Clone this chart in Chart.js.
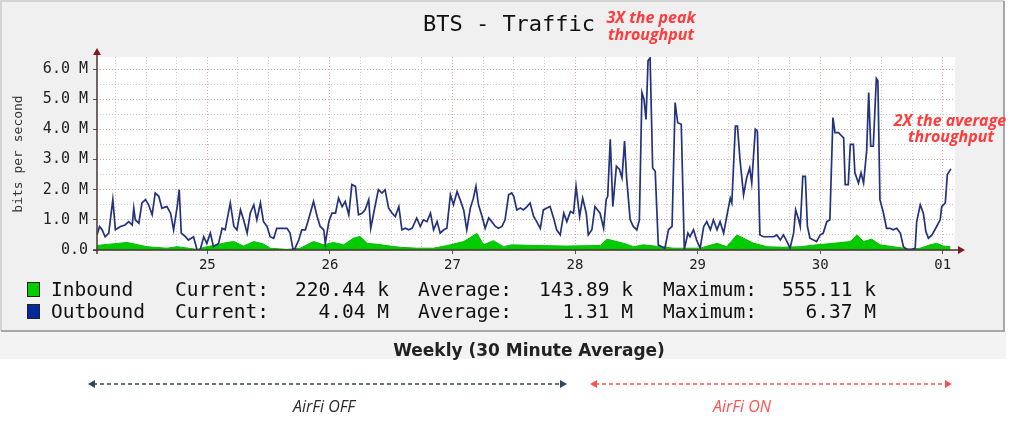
<!DOCTYPE html>
<html>
<head>
<meta charset="utf-8">
<script src="https://cdn.jsdelivr.net/npm/chart.js@4.4.0/dist/chart.umd.min.js"></script>
<style>
  html, body { margin: 0; padding: 0; background: #fff; }
  canvas { display: block; }
</style>
</head>
<body>
<canvas id="trafficChart" width="1024" height="423"></canvas>
<script>
// time axis = hours since the 24th 00:00, values in Mbit/s
const outHours = [
  2.4, 2.9, 3.4, 4.0, 4.7, 5.5, 6.0, 7.0, 7.9, 8.6,
  9.3, 9.6, 9.9, 10.6, 11.2, 11.9, 12.5, 13.2, 13.8, 14.5,
  15.1, 16.1, 16.8, 17.4, 18.1, 18.5, 18.9, 19.7, 20.3, 21.3,
  22.0, 22.6, 23.3, 23.9, 24.6, 25.2, 26.2, 26.9, 27.5, 28.5,
  29.2, 29.8, 30.5, 31.1, 31.8, 32.4, 33.1, 33.7, 34.4, 35.0,
  35.7, 36.3, 37.0, 37.6, 38.6, 39.6, 40.2, 40.8, 41.2, 41.9,
  42.5, 43.2, 43.8, 44.8, 45.5, 46.1, 46.8, 47.1, 47.8, 48.4,
  49.1, 49.7, 50.4, 51.0, 51.7, 52.3, 53.0, 53.6, 54.3, 54.9,
  55.6, 56.0, 56.9, 57.5, 58.2, 58.8, 59.5, 60.2, 60.8, 61.5,
  62.1, 62.8, 63.4, 64.1, 65.0, 65.7, 66.3, 67.0, 67.7, 68.3,
  69.0, 69.6, 70.3, 70.9, 71.6, 72.2, 72.9, 73.5, 74.2, 74.8,
  75.5, 76.1, 76.6, 77.1, 77.8, 78.4, 79.1, 79.7, 80.4, 81.0,
  81.7, 82.3, 83.0, 83.6, 84.0, 84.6, 85.3, 85.9, 86.6, 87.2,
  87.9, 88.5, 89.2, 89.8, 90.5, 91.1, 91.8, 92.4, 93.1, 93.8,
  94.4, 95.1, 95.7, 96.2, 96.9, 97.5, 98.2, 98.6, 99.3, 99.9,
  100.9, 101.6, 102.1, 102.4, 102.9, 103.4, 104.1, 104.7, 105.2, 105.7,
  106.1, 106.8, 107.4, 108.1, 108.6, 109.1, 109.5, 109.9, 110.3, 110.7,
  111.2, 111.7, 112.3, 113.0, 113.6, 114.3, 115.0, 115.6, 116.1, 116.8,
  117.4, 118.1, 118.5, 119.2, 119.8, 120.5, 121.2, 121.8, 122.5, 123.1,
  123.8, 124.4, 125.1, 125.7, 126.4, 126.7, 127.4, 127.8, 128.3, 129.0,
  129.6, 130.2, 130.6, 131.3, 131.7, 132.2, 132.9, 133.6, 134.2, 134.9,
  135.5, 136.2, 136.8, 137.5, 138.1, 138.8, 139.2, 139.8, 140.1, 140.6,
  141.1, 141.5, 142.0, 142.7, 143.3, 144.0, 144.6, 145.3, 145.9, 146.5,
  146.9, 147.6, 148.2, 148.6, 148.9, 149.5, 149.9, 150.5, 150.8, 151.5,
  152.0, 152.5, 153.1, 153.5, 153.9, 154.4, 155.0, 155.3, 155.7, 156.4,
  157.0, 157.7, 158.3, 159.0, 159.7, 160.3, 161.0, 161.9, 162.6, 162.9,
  163.6, 164.2, 164.7, 165.2, 165.9, 166.8, 167.5, 167.8, 168.5, 168.9, 169.6
];
const outMbps = [
  0.50, 0.78, 0.67, 0.44, 0.56, 1.67, 0.67, 0.78, 0.83, 0.94,
  0.83, 1.39, 1.00, 0.89, 1.56, 1.67, 1.50, 1.17, 1.89, 1.78,
  1.39, 1.44, 1.22, 0.67, 1.44, 2.00, 0.56, 0.44, 0.33, 0.44,
  0.00, 0.00, 0.44, 0.22, 0.56, 0.11, 0.22, 0.72, 0.67, 1.56,
  0.78, 0.67, 1.33, 1.00, 0.56, 1.22, 1.50, 1.00, 1.56, 0.94,
  0.78, 0.44, 0.39, 0.72, 0.72, 0.72, 0.56, 0.00, 0.06, 0.33,
  0.67, 0.67, 1.00, 1.61, 1.11, 0.78, 0.67, 0.22, 0.94, 1.22,
  1.22, 1.72, 1.44, 1.61, 1.17, 2.17, 2.11, 1.17, 1.22, 1.33,
  1.67, 0.72, 1.50, 2.00, 1.89, 2.00, 1.39, 1.22, 1.11, 1.44,
  0.67, 0.72, 0.67, 0.72, 1.06, 0.78, 1.00, 0.94, 1.22, 0.67,
  0.94, 0.56, 0.67, 0.72, 1.83, 1.50, 1.94, 1.67, 1.33, 0.67,
  1.39, 1.72, 2.11, 1.50, 1.11, 0.72, 1.06, 0.94, 0.78, 0.72,
  0.78, 1.00, 1.83, 1.89, 1.78, 1.33, 1.39, 1.33, 1.44, 1.56,
  1.11, 0.94, 0.72, 1.33, 1.39, 1.44, 1.06, 0.67, 0.50, 1.22,
  0.94, 1.28, 1.22, 2.11, 1.11, 1.72, 1.22, 0.50, 0.67, 1.44,
  1.22, 0.72, 1.67, 1.78, 3.67, 1.44, 2.78, 2.67, 2.39, 3.61,
  2.39, 1.00, 0.78, 0.67, 1.00, 5.22, 5.00, 4.33, 6.28, 6.37,
  2.72, 2.61, 0.17, 0.11, 0.06, 0.67, 0.78, 4.89, 4.22, 4.17,
  0.02, 0.56, 0.44, 0.67, 0.33, 0.06, 0.78, 0.94, 0.67, 1.00,
  0.67, 0.94, 0.56, 1.11, 1.72, 1.56, 4.11, 4.11, 3.00, 1.83,
  2.39, 2.72, 2.22, 4.00, 3.94, 0.50, 0.44, 0.44, 0.44, 0.44,
  0.50, 0.33, 0.50, 0.28, 0.06, 0.56, 1.33, 1.00, 0.78, 2.44,
  2.44, 0.78, 0.39, 0.33, 0.28, 0.50, 0.56, 0.94, 1.00, 4.39,
  3.89, 3.89, 3.78, 3.72, 2.17, 2.17, 3.50, 3.50, 2.56, 2.22,
  2.56, 2.22, 3.28, 5.22, 3.44, 3.44, 5.69, 5.61, 1.67, 1.22,
  0.72, 0.72, 0.67, 0.72, 0.56, 0.11, 0.02, 0.02, 0.06, 0.94,
  1.50, 1.22, 0.61, 0.39, 0.50, 0.78, 1.00, 1.44, 1.56, 2.50, 2.69
];
const inHours = [
  2.4, 8.3, 12.2, 16.1, 18.1, 22.0, 23.9, 25.9, 27.8, 29.2,
  31.1, 33.1, 35.0, 36.3, 39.6, 42.2, 44.8, 46.8, 48.7, 50.7,
  52.6, 53.9, 55.3, 57.2, 59.8, 61.8, 65.0, 68.3, 71.6, 74.2,
  76.8, 78.1, 80.0, 82.0, 83.6, 87.9, 94.4, 101.0, 102.2, 103.5,
  105.5, 107.5, 109.4, 112.7, 115.3, 117.9, 120.5, 123.8, 125.7, 127.7,
  129.0, 131.0, 133.6, 136.8, 140.1, 143.3, 146.6, 149.9, 151.2, 152.5,
  154.1, 155.7, 158.3, 160.3, 161.6, 163.6, 165.5, 166.8, 168.1, 169.5
];
const inMbps = [
  0.15, 0.25, 0.11, 0.06, 0.11, 0.02, 0.11, 0.17, 0.25, 0.28,
  0.13, 0.28, 0.20, 0.06, 0.02, 0.06, 0.28, 0.17, 0.25, 0.17,
  0.39, 0.45, 0.22, 0.19, 0.13, 0.09, 0.06, 0.06, 0.17, 0.28,
  0.55, 0.17, 0.31, 0.11, 0.17, 0.15, 0.13, 0.15, 0.36, 0.31,
  0.22, 0.11, 0.17, 0.11, 0.06, 0.06, 0.06, 0.22, 0.11, 0.50,
  0.39, 0.22, 0.11, 0.09, 0.11, 0.17, 0.22, 0.28, 0.50, 0.28,
  0.36, 0.17, 0.11, 0.06, 0.02, 0.06, 0.17, 0.22, 0.13, 0.11
];
const dayTicks = [24, 48, 72, 96, 120, 144, 168];
const dayLabels = ['25', '26', '27', '28', '29', '30', '01'];
const legendNames = ['Inbound', 'Outbound'];
const currentVals = ['220.44 k', '  4.04 M'];
const averageVals = ['143.89 k', '  1.31 M'];
const maximumVals = ['555.11 k', '  6.37 M'];

const MONO = '"DejaVu Sans Mono", monospace';
const isDay = v => dayTicks.includes(v);

// background panel, axes with arrows and all the loose text
const framePlugin = {
  id: 'frame',
  beforeDraw(chart) {
    const { ctx, chartArea: a } = chart;
    ctx.save();
    ctx.fillStyle = '#ffffff';
    ctx.fillRect(0, 0, chart.width, chart.height);
    ctx.fillStyle = '#f3f3f3';
    ctx.fillRect(0, 331, 1006, 28);
    ctx.fillStyle = '#f0f0f0';
    ctx.fillRect(0, 0, 1005, 332);
    ctx.lineWidth = 2;
    ctx.strokeStyle = '#d4d4d4';
    ctx.beginPath();
    ctx.moveTo(1, 331); ctx.lineTo(1, 1); ctx.lineTo(1004, 1);
    ctx.stroke();
    ctx.strokeStyle = '#a6a6a6';
    ctx.beginPath();
    ctx.moveTo(1004, 1); ctx.lineTo(1004, 331); ctx.lineTo(1, 331);
    ctx.stroke();
    ctx.fillStyle = '#ffffff';
    ctx.fillRect(a.left, a.top, a.right - a.left, a.bottom - a.top);
    ctx.restore();
  },
  afterDatasetsDraw(chart) {
    const { ctx, chartArea: a } = chart;
    ctx.save();
    ctx.strokeStyle = '#4b3535';
    ctx.lineWidth = 1.5;
    ctx.beginPath();
    ctx.moveTo(a.left, a.bottom + 4); ctx.lineTo(a.left, a.top - 3);
    ctx.moveTo(a.left - 4, a.bottom); ctx.lineTo(a.right + 4, a.bottom);
    ctx.stroke();
    ctx.fillStyle = '#7a1c1c';
    ctx.beginPath();
    ctx.moveTo(a.left, a.top - 9); ctx.lineTo(a.left - 4, a.top - 2); ctx.lineTo(a.left + 4, a.top - 2);
    ctx.fill();
    ctx.beginPath();
    ctx.moveTo(a.right + 10, a.bottom); ctx.lineTo(a.right + 3, a.bottom - 4); ctx.lineTo(a.right + 3, a.bottom + 4);
    ctx.fill();
    ctx.restore();
  },
  afterDraw(chart) {
    const { ctx } = chart;
    ctx.save();
    ctx.textBaseline = 'alphabetic';

    ctx.fillStyle = '#111';
    ctx.textAlign = 'center';
    ctx.font = '22px ' + MONO;
    ctx.fillText('BTS - Traffic', 509, 31);

    ctx.fillStyle = '#ff3b3b';
    ctx.font = 'italic bold 16px "Open Sans", sans-serif';
    ctx.fillText('3X the peak', 651, 23);
    ctx.fillText('throughput', 651, 40);
    ctx.fillText('2X the average', 950, 126);
    ctx.fillText('throughput', 951, 142);

    // y axis title
    ctx.save();
    ctx.translate(19, 154);
    ctx.rotate(-Math.PI / 2);
    ctx.fillStyle = '#333';
    ctx.font = '13px ' + MONO;
    ctx.textBaseline = 'middle';
    ctx.fillText('bits per second', 0, 0);
    ctx.restore();

    // legend rows
    const boxColors = ['#00cc00', '#002a97'];
    ctx.textAlign = 'left';
    ctx.font = '19.5px ' + MONO;
    legendNames.forEach((name, i) => {
      const base = 296 + i * 22;
      ctx.fillStyle = boxColors[i];
      ctx.fillRect(27, base - 14, 13, 15);
      ctx.strokeStyle = '#222';
      ctx.lineWidth = 1;
      ctx.strokeRect(27.5, base - 13.5, 12, 14);
      ctx.fillStyle = '#111';
      ctx.fillText(name, 51, base);
      ctx.fillText('Current:', 175, base);
      ctx.fillText(currentVals[i], 295, base);
      ctx.fillText('Average:', 418, base);
      ctx.fillText(averageVals[i], 539, base);
      ctx.fillText('Maximum:', 663, base);
      ctx.fillText(maximumVals[i], 782, base);
    });

    ctx.textAlign = 'center';
    ctx.fillStyle = '#222';
    ctx.font = 'bold 17px "DejaVu Sans", sans-serif';
    ctx.fillText('Weekly (30 Minute Average)', 529, 356);

    // AirFi OFF / ON spans
    const span = (x1, x2, color, label, lx, textColor) => {
      const y = 384;
      ctx.strokeStyle = color;
      ctx.fillStyle = color;
      ctx.lineWidth = 1.6;
      ctx.setLineDash([4, 3]);
      ctx.beginPath();
      ctx.moveTo(x1 + 5, y); ctx.lineTo(x2 - 5, y);
      ctx.stroke();
      ctx.setLineDash([]);
      ctx.beginPath();
      ctx.moveTo(x1, y); ctx.lineTo(x1 + 7, y - 4); ctx.lineTo(x1 + 7, y + 4);
      ctx.fill();
      ctx.beginPath();
      ctx.moveTo(x2, y); ctx.lineTo(x2 - 7, y - 4); ctx.lineTo(x2 - 7, y + 4);
      ctx.fill();
      ctx.font = 'italic 16px "Open Sans", sans-serif';
      ctx.fillStyle = textColor;
      ctx.fillText(label, lx, 412);
    };
    span(88, 567, '#2e4466', 'AirFi OFF', 324, '#2b2b2b');
    span(590, 952, '#ff5252', 'AirFi ON', 742, '#ff5252');

    ctx.restore();
  }
};

const ctx = document.getElementById('trafficChart').getContext('2d');
const trafficChart = new Chart(ctx, {
  type: 'line',
  data: {
    datasets: [
      {
        label: 'Outbound',
        data: outHours.map((h, i) => ({ x: h, y: outMbps[i] })),
        borderColor: '#23327c',
        borderWidth: 1.7,
        pointRadius: 0,
        tension: 0,
        fill: false
      },
      {
        label: 'Inbound',
        data: inHours.map((h, i) => ({ x: h, y: inMbps[i] })),
        borderColor: '#00c000',
        backgroundColor: '#00cc00',
        borderWidth: 1,
        pointRadius: 0,
        tension: 0,
        fill: 'origin'
      }
    ]
  },
  options: {
    responsive: false,
    animation: false,
    events: [],
    layout: { padding: { left: 0, right: 69, top: 57, bottom: 143 } },
    scales: {
      x: {
        type: 'linear',
        min: 2.4,
        max: 170.4,
        afterBuildTicks(scale) {
          const t = [];
          for (let h = 6; h <= 168; h += 6) t.push({ value: h });
          scale.ticks = t;
        },
        afterFit(scale) { scale.height = 30; },
        grid: {
          color: c => isDay(c.tick.value) ? '#dfa9a9' : '#cbcbcb',
          tickColor: c => isDay(c.tick.value) ? '#555' : 'rgba(0,0,0,0)',
          tickLength: 4,
          lineWidth: 1
        },
        border: { display: false, dash: [1, 2] },
        ticks: {
          autoSkip: false,
          maxRotation: 0,
          padding: 3,
          color: '#222',
          font: { family: 'DejaVu Sans Mono', size: 14 },
          callback: v => {
            const i = dayTicks.indexOf(v);
            return i >= 0 ? dayLabels[i] : '';
          }
        }
      },
      y: {
        min: 0,
        max: 6.4,
        afterFit(scale) { scale.width = 97; },
        grid: {
          color: c => Number.isInteger(c.tick.value) ? '#dfa9a9' : '#cbcbcb',
          tickColor: c => Number.isInteger(c.tick.value) ? '#555' : 'rgba(0,0,0,0)',
          tickLength: 4,
          lineWidth: 1
        },
        border: { display: false, dash: [1, 2] },
        ticks: {
          stepSize: 0.5,
          includeBounds: false,
          autoSkip: false,
          padding: 5,
          color: '#222',
          font: { family: 'DejaVu Sans Mono', size: 15 },
          callback: v => v === 0 ? '0.0' : (Number.isInteger(v) ? v.toFixed(1) + ' M' : '')
        }
      }
    },
    plugins: {
      legend: { display: false },
      tooltip: { enabled: false }
    }
  },
  plugins: [framePlugin]
});
</script>
</body>
</html>
